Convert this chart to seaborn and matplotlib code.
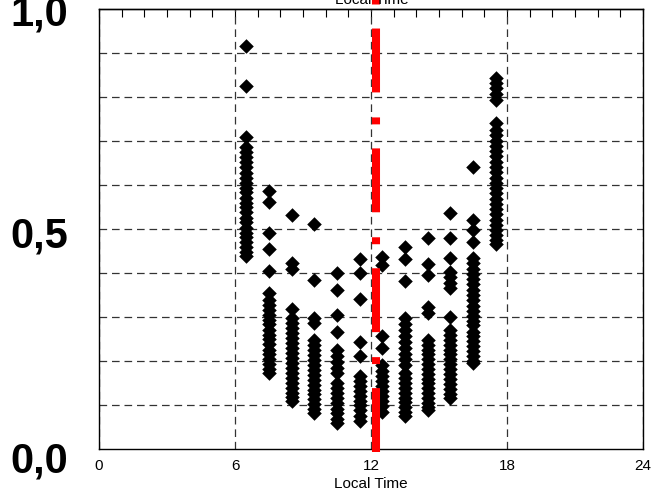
import numpy as np
import pandas as pd
import matplotlib
matplotlib.use("Agg")
import matplotlib.pyplot as plt
import matplotlib.transforms as mtransforms
import seaborn as sns

# hourly bins (local time) and the values stacked in each bin
hours = [6.5, 7.5, 8.5, 9.5, 10.5, 11.5, 12.5, 13.5, 14.5, 15.5, 16.5, 17.5]

h06 = [0.916, 0.825, 0.708, 0.686, 0.675, 0.664, 0.652, 0.641, 0.628, 0.617, 0.605, 0.594, 0.583,
       0.571, 0.560, 0.549, 0.538, 0.526, 0.515, 0.503, 0.492, 0.481, 0.470, 0.459, 0.448, 0.438]
h07 = [0.586, 0.561, 0.490, 0.455, 0.405, 0.355, 0.339, 0.328, 0.317, 0.305, 0.294, 0.283, 0.271,
       0.260, 0.249, 0.238, 0.226, 0.215, 0.204, 0.193, 0.182, 0.172]
h08 = [0.532, 0.422, 0.408, 0.318, 0.298, 0.287, 0.275, 0.264, 0.252, 0.241, 0.229, 0.218, 0.207,
       0.195, 0.184, 0.173, 0.162, 0.150, 0.139, 0.128, 0.118, 0.108]
h09 = [0.511, 0.384, 0.298, 0.287, 0.248, 0.237, 0.225, 0.214, 0.203, 0.191, 0.180, 0.168, 0.157,
       0.146, 0.135, 0.124, 0.113, 0.102, 0.091, 0.081]
h10 = [0.400, 0.361, 0.305, 0.267, 0.225, 0.212, 0.198, 0.185, 0.172, 0.149, 0.138, 0.127, 0.115,
       0.104, 0.092, 0.081, 0.069, 0.058]
h11 = [0.431, 0.401, 0.342, 0.243, 0.212, 0.166, 0.155, 0.144, 0.132, 0.121, 0.110, 0.099, 0.088,
       0.076, 0.064]
h12 = [0.437, 0.419, 0.257, 0.229, 0.190, 0.178, 0.167, 0.155, 0.144, 0.132, 0.120, 0.109, 0.097,
       0.085]
h13 = [0.460, 0.432, 0.382, 0.297, 0.284, 0.270, 0.257, 0.244, 0.230, 0.217, 0.204, 0.191, 0.172,
       0.161, 0.150, 0.139, 0.128, 0.117, 0.106, 0.095, 0.085, 0.074]
h14 = [0.480, 0.420, 0.395, 0.322, 0.310, 0.248, 0.237, 0.226, 0.215, 0.204, 0.193, 0.182, 0.171,
       0.160, 0.149, 0.138, 0.127, 0.116, 0.105, 0.095, 0.089]
h15 = [0.537, 0.479, 0.435, 0.403, 0.391, 0.378, 0.365, 0.301, 0.270, 0.259, 0.248, 0.237, 0.226,
       0.215, 0.204, 0.193, 0.181, 0.170, 0.159, 0.148, 0.137, 0.126, 0.115]
h16 = [0.642, 0.520, 0.498, 0.471, 0.433, 0.422, 0.410, 0.398, 0.386, 0.374, 0.362, 0.350, 0.338,
       0.326, 0.314, 0.302, 0.290, 0.282, 0.267, 0.256, 0.245, 0.234, 0.223, 0.212, 0.201, 0.195]
h17 = [0.843, 0.832, 0.820, 0.806, 0.793, 0.740, 0.725, 0.713, 0.701, 0.689, 0.677, 0.665, 0.653,
       0.641, 0.629, 0.617, 0.605, 0.593, 0.581, 0.569, 0.557, 0.545, 0.533, 0.521, 0.509, 0.497,
       0.486, 0.475, 0.465]

noon_line = 12.23
y_labels = ["0,0", "0,5", "1,0"]
y_label_pos = [-0.0545, 0.457, 0.9636]

series = [h06, h07, h08, h09, h10, h11, h12, h13, h14, h15, h16, h17]
df = pd.DataFrame({
    "hour": np.concatenate([[h] * len(v) for h, v in zip(hours, series)]),
    "value": np.concatenate(series),
})

sns.set_style("white")
plt.rcParams["font.family"] = ["Liberation Sans Narrow", "Liberation Sans", "DejaVu Sans"]
plt.rcParams["lines.scale_dashes"] = False
plt.rcParams["text.color"] = "black"
plt.rcParams["axes.labelcolor"] = "black"
plt.rcParams["xtick.color"] = "black"
plt.rcParams["ytick.color"] = "black"

fig = plt.figure(figsize=(6.56, 4.96), dpi=100)
ax = fig.add_axes([99 / 656, 47 / 496, 544 / 656, 440 / 496])

sns.scatterplot(data=df, x="hour", y="value", marker="D", s=55, color="black",
                linewidth=0, ax=ax, zorder=3, legend=False)

# red noon line, dash-dot, runs past the frame
ax.plot([noon_line, noon_line], [-0.007, 1.03], color="#ff0000", lw=5.8,
        dashes=(46, 17.3, 5.0, 18.0), solid_capstyle="butt", dash_capstyle="butt",
        clip_on=False, zorder=4)

ax.set_xlim(0, 24)
ax.set_ylim(0, 1.0)

ax.set_xticks([0, 6, 12, 18, 24])
ax.set_xticks(np.arange(0, 25, 1), minor=True)
ax.set_yticks([0, 1.0])
ax.set_yticklabels([])
ax.set_yticks(np.arange(0.1, 0.95, 0.1), minor=True)

grid_kw = dict(color="#333333", linestyle=(0, (5.5, 3.5)), linewidth=0.9)
ax.grid(axis="x", which="major", **grid_kw)
ax.grid(axis="y", which="minor", **grid_kw)
ax.set_axisbelow(True)

ax.tick_params(axis="x", which="major", direction="inout", length=10, width=0.8,
               labelsize=11, pad=2)
ax.tick_params(axis="x", which="minor", direction="inout", length=7, width=0.8)
ax.tick_params(axis="y", which="major", direction="out", length=5, width=0.8)
ax.tick_params(axis="y", which="minor", length=0)

# top edge: inward ticks only
top = ax.secondary_xaxis("top")
top.set_xticks([0, 6, 12, 18, 24])
top.set_xticks(np.arange(0, 25, 1), minor=True)
top.set_xticklabels([])
top.tick_params(which="major", direction="in", length=6, width=0.8)
top.tick_params(which="minor", direction="in", length=6, width=0.8)
top.spines["top"].set_linewidth(1.0)

for sp in ax.spines.values():
    sp.set_color("black")
    sp.set_linewidth(1.0)

ax.set_xlabel("Local Time", fontsize=11, labelpad=3)
ax.set_ylabel("")

trans = mtransforms.blended_transform_factory(ax.transAxes, ax.transData)
for lab, yp in zip(y_labels, y_label_pos):
    ax.text(-0.057, yp, lab, transform=trans, ha="right", va="baseline",
            fontsize=30, fontweight="bold", color="black",
            family=["Liberation Sans", "DejaVu Sans"], clip_on=False)

# title sits above the top edge, only its lower part shows
fig.text(372 / 656, 1 - 4 / 496, "Local Time", ha="center", va="baseline", fontsize=11)

fig.savefig("out.png", dpi=100)
